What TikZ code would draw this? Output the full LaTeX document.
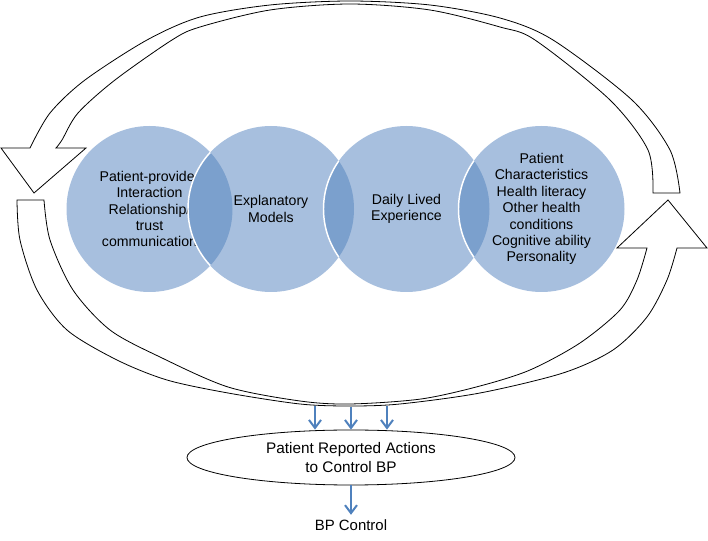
\documentclass[tikz,border=0pt]{standalone}
\usepackage{fontspec}
\setmainfont{Liberation Sans}
\usetikzlibrary{shapes.geometric,arrows.meta}
\definecolor{vennfill}{RGB}{167,191,222}
\definecolor{lensfill}{RGB}{123,160,205}
\definecolor{flowblue}{RGB}{79,129,189}
\tikzset{
  venn/.style = {circle, fill = vennfill, minimum size = 124.5pt, inner sep = 0pt,
    align = center, font = \fontsize{10.6}{12.3}\selectfont},
  ring/.style = {draw = black, fill = white, line width = 0.6pt, line join = miter},
  flow/.style = {draw = flowblue, line width = 1.5pt,
    -{Straight Barb[length = 6pt, width = 9pt]}},
  actionbox/.style = {ellipse, draw = black, line width = 0.6pt, minimum width = 246pt,
    minimum height = 41.25pt, inner sep = 0pt, align = center,
    font = \fontsize{11.5}{14.2}\selectfont}
}
\begin{document}
\begin{tikzpicture}[x = 0.75pt, y = -0.75pt]
  \useasboundingbox (0, 0) rectangle (708, 541);

  \draw [ring]
    plot [smooth] coordinates {(680,193) (670,150) (632,100) (553,40) (500,18) (430,5)
      (350,1) (270,5) (200,17) (147,40) (85,80) (50,113) (30,148)}
    -- (1,148) -- (34,193) -- (86,148)
    -- plot [smooth] coordinates {(56,148) (62,140) (78,113) (115,80) (172,40) (200,27)
      (270,10) (350,4) (430,10) (500,27) (535,40) (610,100) (648,150) (653,193)}
    -- cycle;

  \draw [ring]
    plot [smooth] coordinates {(17,200) (20,240) (37,290) (67,330) (117,360) (167,380)
      (228,393) (300,404) (350,406) (400,404) (480,393) (563,373) (613,350) (647,317)
      (667,280) (677,248)}
    -- (707,248) -- (668,200) -- (617,248)
    -- plot [smooth] coordinates {(647,248) (637,280) (620,310) (580,343) (530,370)
      (480,386) (421,399) (350,404) (300,401) (228,387) (160,357) (110,330) (73,290)
      (50,240) (44,200)}
    -- cycle;

  \node [venn] (c1) at (149.5,209) {Patient-provider\\Interaction\\Relationship/\\trust\\communication};
  \node [venn] (c2) at (271,209) {Explanatory\\Models};
  \node [venn] (c3) at (406.5,209) {Daily Lived\\Experience};
  \node [venn] (c4) at (541.5,209) {Patient\\Characteristics\\Health literacy\\Other health\\conditions\\Cognitive ability\\Personality};

  \foreach \a/\b in {c1/c2, c2/c3, c3/c4} {
    \begin{scope}
      \clip (\a.center) circle [radius = 62.25pt];
      \fill [lensfill] (\b.center) circle [radius = 62.25pt];
      \draw [white, line width = 1.1pt] (\b.center) circle [radius = 62.25pt];
    \end{scope}
  }

  \node [actionbox] (actions) at (351,457.5) {Patient Reported Actions\\to Control BP};
  \node [font = \fontsize{11.2}{13.7}\selectfont] (bp) at (351,525) {BP Control};

  \coordinate (rb1) at (315,406);
  \coordinate (rb2) at (351,407);
  \coordinate (rb3) at (387,406);
  \foreach \r in {rb1, rb2, rb3}
    \draw [flow] (\r) -- (\r |- actions.north);
  \draw [flow] (actions) -- (bp);
\end{tikzpicture}
\end{document}
